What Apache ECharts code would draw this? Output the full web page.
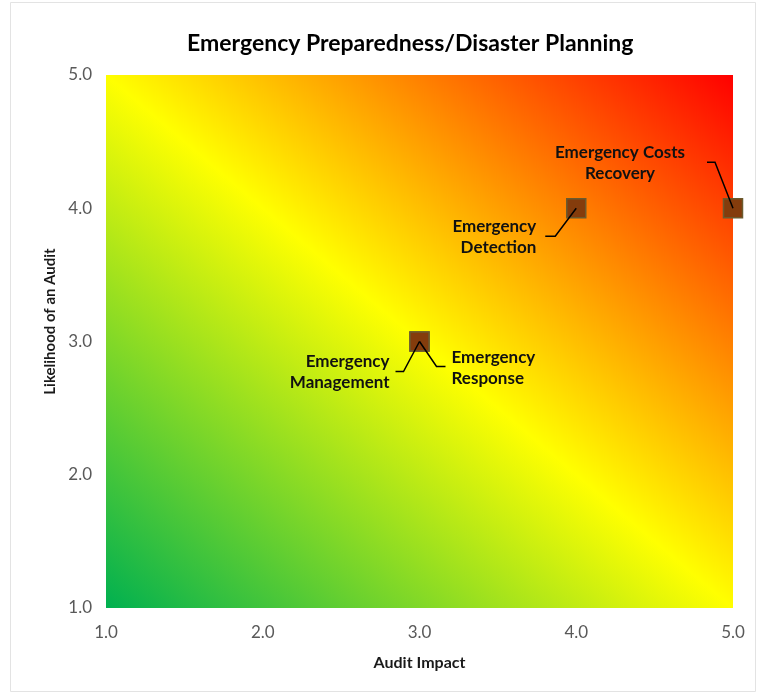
<!DOCTYPE html>
<html>
<head>
<meta charset="utf-8">
<title>Emergency Preparedness/Disaster Planning</title>
<script src="https://cdn.jsdelivr.net/npm/echarts@6/dist/echarts.min.js"></script>
<style>
  html, body { margin: 0; padding: 0; background: #ffffff; }
  #chart { width: 757px; height: 693px; }
</style>
</head>
<body>
<div id="chart"></div>
<script>
// Risk items plotted on the impact / likelihood matrix
const risks = [
  'Emergency\nManagement',
  'Emergency\nResponse',
  'Emergency\nDetection',
  'Emergency Costs\nRecovery'
];
const impact = [3, 3, 4, 5];
const likelihood = [3, 3, 4, 4];

// Axis ticks
const ticks = [1, 2, 3, 4, 5];
const tickLabels = ['1.0', '2.0', '3.0', '4.0', '5.0'];

// Pixel placement of each label and its leader line, relative to the marker
const labelLayout = [
  { tx: -30, ty: 31, align: 'right',  path: [[-24, 30], [-16, 30], [0, 0]] },
  { tx: 32,  ty: 27, align: 'left',   path: [[0, 0], [17, 25], [26, 25]] },
  { tx: -40, ty: 29, align: 'right',  path: [[0, 0], [-21, 28], [-31, 28]] },
  { tx: -113, ty: -45, align: 'center', path: [[-26, -46], [-18, -46], [0, 0]] }
];

const points = impact.map((x, i) => [x, likelihood[i]]);

const chart = echarts.init(document.getElementById('chart'), null, { renderer: 'canvas' });

// Heat gradient runs perpendicular to the plot's anti-diagonal
const gridW = 757 - 106 - 24;
const gridH = 693 - 75 - 85;
const L2 = gridW * gridW + gridH * gridH;
const a = gridH * gridH / L2;
const b = gridW * gridW / L2;
const heat = new echarts.graphic.LinearGradient(0.5 - a, 0.5 + b, 0.5 + a, 0.5 - b, [
  { offset: 0, color: '#00b050' },
  { offset: 0.5, color: '#ffff00' },
  { offset: 1, color: '#ff0000' }
]);

const font = 'Lato, "Open Sans", sans-serif';

chart.setOption({
  animation: false,
  backgroundColor: '#ffffff',
  title: {
    text: 'Emergency Preparedness/Disaster Planning',
    left: 182,
    top: 27,
    textStyle: { fontFamily: font, fontWeight: 'bold', fontSize: 23, color: '#000000' }
  },
  graphic: [{
    type: 'rect',
    shape: { x: 10.5, y: 2.5, width: 745, height: 689 },
    style: { fill: null, stroke: '#e3e3e3', lineWidth: 1 },
    silent: true,
    z: -10
  }],
  grid: {
    left: 106, top: 75, right: 24, bottom: 85,
    show: true,
    backgroundColor: heat,
    borderWidth: 0
  },
  xAxis: {
    type: 'value',
    min: ticks[0], max: ticks[ticks.length - 1], interval: 1,
    name: 'Audit Impact',
    nameLocation: 'middle',
    nameGap: 47,
    nameTextStyle: { fontFamily: font, fontWeight: 'bold', fontSize: 16, color: '#1a1a1a' },
    axisLine: { show: false },
    axisTick: { show: false },
    splitLine: { show: false },
    axisLabel: {
      margin: 16,
      fontFamily: font, fontSize: 17, color: '#595959',
      formatter: v => tickLabels[ticks.indexOf(v)]
    }
  },
  yAxis: {
    type: 'value',
    min: ticks[0], max: ticks[ticks.length - 1], interval: 1,
    name: 'Likelihood of an Audit',
    nameLocation: 'middle',
    nameGap: 48,
    nameTextStyle: { fontFamily: font, fontWeight: 'bold', fontSize: 15, color: '#1a1a1a', padding: [0, 0, 0, 40] },
    axisLine: { show: false },
    axisTick: { show: false },
    splitLine: { show: false },
    axisLabel: {
      margin: 14,
      fontFamily: font, fontSize: 17, color: '#595959',
      formatter: v => tickLabels[ticks.indexOf(v)]
    }
  },
  series: [
    {
      type: 'scatter',
      data: points,
      symbol: 'rect',
      symbolSize: 19,
      clip: false,
      itemStyle: { color: '#843c0c', borderColor: '#6b5a2e', borderWidth: 1.5, opacity: 1 },
      z: 2
    },
    {
      type: 'custom',
      data: points.map((p, i) => [p[0], p[1], i]),
      clip: false,
      z: 3,
      renderItem: function (params, api) {
        const i = api.value(2);
        const c = api.coord([api.value(0), api.value(1)]);
        const lay = labelLayout[i];
        return {
          type: 'group',
          children: [
            {
              type: 'polyline',
              shape: { points: lay.path.map(o => [c[0] + o[0], c[1] + o[1]]) },
              style: { stroke: '#000000', lineWidth: 1.5, fill: null }
            },
            {
              type: 'text',
              style: {
                text: risks[i],
                x: c[0] + lay.tx,
                y: c[1] + lay.ty,
                align: lay.align,
                verticalAlign: 'middle',
                fontFamily: font,
                fontWeight: 'bold',
                fontSize: 17,
                lineHeight: 21,
                fill: '#111111'
              }
            }
          ]
        };
      }
    }
  ]
});
</script>
</body>
</html>
